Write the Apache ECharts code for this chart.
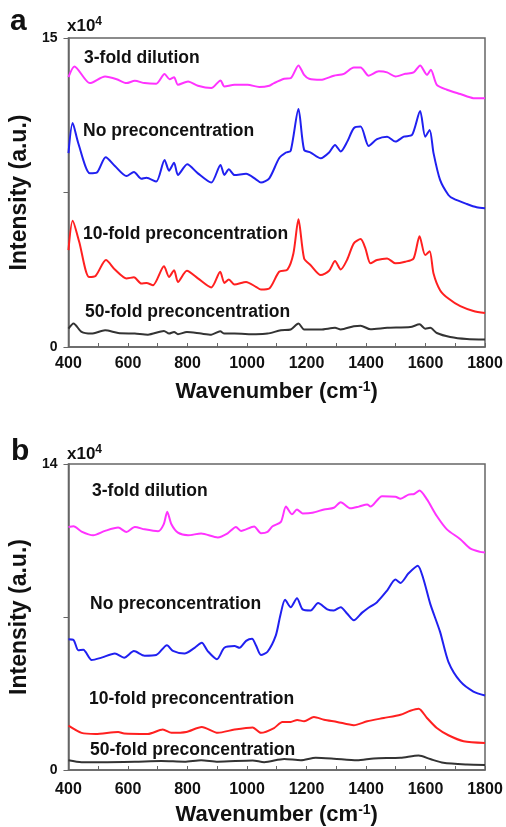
<!DOCTYPE html>
<html>
<head>
<meta charset="utf-8">
<script src="https://cdn.jsdelivr.net/npm/echarts@6/dist/echarts.min.js"></script>
<style>
  html, body { margin: 0; padding: 0; background: #fff; }
  #chart { width: 506px; height: 827px; }
</style>
</head>
<body>
<div id="chart"></div>
<script>
var myChart = echarts.init(document.getElementById('chart'));

// panel a : [wavenumber, intensity x10^4]
var aDilution = [[400,13.10],[420,13.62],[472,12.81],[523,13.13],[562,13.00],[595,12.81],[623,12.92],[656,12.81],
  [695,12.78],[723,13.25],[740,13.00],[755,13.10],[768,12.73],[802,12.89],[835,12.68],[880,12.57],[911,12.94],
  [924,12.65],[958,12.73],[1002,12.73],[1041,12.62],[1075,12.68],[1091,12.81],[1125,13.02],[1147,13.05],[1173,13.67],
  [1192,13.21],[1209,13.02],[1248,12.97],[1292,13.17],[1326,13.26],[1359,13.57],[1382,13.57],[1409,13.17],[1443,13.38],
  [1471,13.33],[1499,13.13],[1532,13.26],[1560,13.33],[1582,13.67],[1605,13.21],[1618,13.46],[1638,12.73],[1672,12.49],
  [1717,12.28],[1761,12.08],[1800,12.07]];
var aNone = [[400,9.41],[414,10.87],[433,9.89],[472,8.43],[495,8.46],[525,9.21],[556,8.79],[595,8.30],[620,8.50],
  [645,8.17],[662,8.22],[695,8.03],[723,9.08],[738,8.56],[755,8.95],[768,8.35],[799,8.87],[835,8.43],[880,7.98],
  [911,8.84],[924,8.35],[939,8.63],[958,8.35],[997,8.41],[1030,8.14],[1047,7.98],[1075,8.19],[1108,9.16],[1131,9.44],
  [1147,9.53],[1173,11.55],[1192,9.57],[1214,9.44],[1248,9.16],[1276,9.44],[1296,9.81],[1315,9.49],[1337,9.97],
  [1359,10.62],[1382,10.70],[1409,9.76],[1437,10.09],[1471,10.21],[1499,9.97],[1527,10.21],[1555,10.30],[1582,11.46],
  [1599,10.21],[1614,10.54],[1627,9.41],[1649,8.11],[1677,7.38],[1694,7.20],[1739,6.94],[1772,6.78],[1800,6.73]];
var aTen = [[400,4.70],[414,6.13],[436,5.11],[469,3.40],[491,3.45],[526,4.22],[556,3.76],[595,3.33],[620,3.38],
  [645,3.08],[662,3.11],[684,3.00],[721,3.92],[738,3.40],[755,3.73],[768,3.16],[798,3.70],[835,3.33],[880,2.89],
  [910,3.65],[924,3.11],[939,3.28],[958,3.03],[997,3.16],[1030,2.92],[1047,2.79],[1075,2.84],[1108,3.65],[1136,3.76],
  [1156,4.54],[1173,6.20],[1192,4.30],[1214,3.97],[1248,3.49],[1276,3.70],[1296,4.17],[1315,3.76],[1337,4.25],
  [1359,5.03],[1382,5.24],[1398,4.79],[1415,4.06],[1437,4.22],[1471,4.30],[1499,4.06],[1532,4.14],[1560,4.30],
  [1580,5.38],[1599,4.46],[1614,4.65],[1627,3.57],[1649,2.76],[1677,2.35],[1717,1.98],[1761,1.75],[1800,1.65]];
var aFifty = [[400,0.89],[417,1.14],[444,0.73],[477,0.65],[523,0.81],[567,0.68],[623,0.65],[667,0.60],[721,0.78],
  [738,0.65],[755,0.73],[768,0.62],[798,0.73],[846,0.65],[880,0.60],[910,0.76],[924,0.65],[958,0.65],[1030,0.62],
  [1069,0.65],[1114,0.81],[1147,0.85],[1173,1.14],[1192,0.85],[1248,0.85],[1296,0.93],[1315,0.85],[1359,1.01],
  [1382,1.03],[1415,0.86],[1471,0.93],[1549,0.97],[1580,1.10],[1599,0.89],[1616,0.93],[1638,0.68],[1683,0.49],
  [1739,0.39],[1800,0.36]];

// panel b
var bDilution = [[400,11.12],[417,11.15],[444,10.91],[483,10.74],[523,10.94],[567,11.09],[595,10.89],[623,11.12],
  [656,11.01],[701,10.92],[720,11.24],[732,11.82],[746,11.24],[768,10.86],[802,10.74],[846,10.82],[902,10.64],
  [935,10.83],[963,11.12],[980,10.94],[1024,11.14],[1047,10.83],[1069,10.89],[1086,11.15],[1114,11.35],[1131,12.05],
  [1151,11.70],[1168,11.92],[1187,11.74],[1220,11.77],[1259,11.92],[1292,12.00],[1315,12.25],[1348,11.97],[1376,12.05],
  [1404,12.15],[1415,12.05],[1454,12.53],[1499,12.50],[1516,12.41],[1543,12.60],[1562,12.63],[1580,12.79],[1605,12.38],
  [1638,11.62],[1672,11.01],[1717,10.56],[1750,10.14],[1783,9.98],[1800,9.95]];
var bNone = [[400,5.98],[417,5.95],[433,5.48],[450,5.50],[478,5.03],[511,5.14],[556,5.33],[587,5.14],[620,5.44],
  [656,5.23],[695,5.26],[731,5.71],[751,5.45],[790,5.33],[824,5.59],[848,5.82],[868,5.44],[899,5.07],[924,5.59],
  [958,5.67],[975,5.59],[997,5.91],[1017,6.01],[1030,5.71],[1047,5.26],[1069,5.41],[1097,6.16],[1112,7.07],[1128,7.79],
  [1147,7.45],[1168,7.86],[1187,7.35],[1214,7.30],[1239,7.64],[1270,7.35],[1292,7.30],[1315,7.45],[1337,7.15],
  [1359,6.85],[1387,7.20],[1404,7.38],[1437,7.68],[1471,8.21],[1499,8.71],[1516,8.56],[1543,9.00],[1574,9.35],
  [1593,8.74],[1616,7.60],[1649,6.32],[1677,4.95],[1717,4.05],[1761,3.59],[1800,3.41]];
var bTen = [[400,2.03],[444,1.70],[491,1.65],[567,1.74],[587,1.67],[667,1.65],[717,1.85],[746,1.70],[796,1.74],
  [848,1.97],[902,1.70],[958,1.85],[1019,1.95],[1047,1.70],[1091,1.92],[1119,2.20],[1147,2.20],[1169,2.29],[1192,2.23],
  [1225,2.42],[1259,2.30],[1303,2.20],[1359,2.05],[1404,2.23],[1460,2.38],[1516,2.53],[1549,2.71],[1577,2.80],
  [1605,2.38],[1638,1.92],[1677,1.59],[1728,1.32],[1800,1.24]];
var bFifty = [[400,0.45],[444,0.36],[511,0.36],[623,0.38],[712,0.41],[790,0.38],[846,0.45],[902,0.38],[1019,0.44],
  [1058,0.36],[1125,0.50],[1181,0.45],[1231,0.56],[1292,0.52],[1370,0.45],[1426,0.53],[1516,0.56],[1577,0.66],
  [1616,0.50],[1660,0.33],[1739,0.25],[1800,0.23]];

var seriesNames = ['3-fold dilution', 'No preconcentration', '10-fold preconcentration', '50-fold preconcentration'];
var colors = ['#ff33ff', '#2020f0', '#ff2020', '#333333'];
var yMaxA = 15, yMaxB = 14;

var font = "'Liberation Sans', Arial, sans-serif";
var axisColor = '#666';

function xAxisFor(idx, labelMargin, gap) {
  return {
    type: 'value', gridIndex: idx, min: 400, max: 1800, interval: 100,
    axisLine: { lineStyle: { color: axisColor, width: 1.5 } },
    axisTick: { inside: true, length: 4, lineStyle: { color: axisColor } },
    splitLine: { show: false },
    axisLabel: {
      color: '#111', fontFamily: font, fontWeight: 'bold', fontSize: 16, margin: labelMargin,
      formatter: function (v) { return v % 200 === 0 ? v : ''; }
    },
    name: '{t|Wavenumber (cm}{s|-1}{t|)}',
    nameLocation: 'middle', nameGap: gap,
    nameTextStyle: {
      rich: {
        t: { fontFamily: font, fontWeight: 'bold', fontSize: 22, color: '#111' },
        s: { fontFamily: font, fontWeight: 'bold', fontSize: 14, color: '#111', verticalAlign: 'top', padding: [0, 0, 10, 0] }
      }
    }
  };
}
function yAxisFor(idx, max) {
  return {
    type: 'value', gridIndex: idx, min: 0, max: max, interval: max / 2,
    axisLine: { show: true, lineStyle: { color: axisColor, width: 1.5 } },
    axisTick: { show: true, length: 5, lineStyle: { color: axisColor } },
    splitLine: { show: false },
    axisLabel: {
      color: '#111', fontFamily: font, fontWeight: 'bold', fontSize: 14, margin: 11,
      formatter: function (v) { return (v === 0 || v === max) ? v : ''; }
    },
    name: 'Intensity (a.u.)', nameLocation: 'middle', nameGap: 33,
    nameTextStyle: { fontFamily: font, fontWeight: 'bold', fontSize: 23, color: '#111' }
  };
}

function lineSeries(name, data, color, idx) {
  return {
    name: name, type: 'line', xAxisIndex: idx, yAxisIndex: idx, data: data,
    showSymbol: false, smooth: 0.25, lineStyle: { color: color, width: 2 }, silent: true
  };
}

function txt(left, top, text, size) {
  return { type: 'text', left: left, top: top,
    style: { text: text, font: 'bold ' + size + 'px ' + font, fill: '#111' } };
}
function exponent(left, top) {
  return { type: 'text', left: left, top: top,
    style: { text: '{a|x10}{b|4}', fill: '#111',
      rich: { a: { font: 'bold 17px ' + font }, b: { font: 'bold 12px ' + font, verticalAlign: 'top', padding: [0, 0, 9, 0] } } } };
}

option = {
  backgroundColor: '#fff',
  animation: false,
  grid: [
    { left: 67, right: 21, top: 38, height: 309, show: true, borderColor: axisColor, borderWidth: 1.5 },
    { left: 67, right: 21, top: 464, height: 308, show: true, borderColor: axisColor, borderWidth: 1.5 }
  ],
  xAxis: [xAxisFor(0, 9, 33), xAxisFor(1, 12, 33)],
  yAxis: [yAxisFor(0, yMaxA), yAxisFor(1, yMaxB)],
  series: [
    lineSeries(seriesNames[0], aDilution, colors[0], 0),
    lineSeries(seriesNames[1], aNone, colors[1], 0),
    lineSeries(seriesNames[2], aTen, colors[2], 0),
    lineSeries(seriesNames[3], aFifty, colors[3], 0),
    lineSeries(seriesNames[0], bDilution, colors[0], 1),
    lineSeries(seriesNames[1], bNone, colors[1], 1),
    lineSeries(seriesNames[2], bTen, colors[2], 1),
    lineSeries(seriesNames[3], bFifty, colors[3], 1)
  ],
  graphic: [
    txt(10, 7, 'a', 30),
    txt(11, 437, 'b', 30),
    exponent(67, 16),
    exponent(67, 444),
    txt(84, 49, seriesNames[0], 17.5),
    txt(83, 122, seriesNames[1], 17.5),
    txt(83, 225, seriesNames[2], 17.5),
    txt(85, 303, seriesNames[3], 17.5),
    txt(92, 482, seriesNames[0], 17.5),
    txt(90, 595, seriesNames[1], 17.5),
    txt(89, 690, seriesNames[2], 17.5),
    txt(90, 741, seriesNames[3], 17.5)
  ]
};

myChart.setOption(option);
</script>
</body>
</html>
